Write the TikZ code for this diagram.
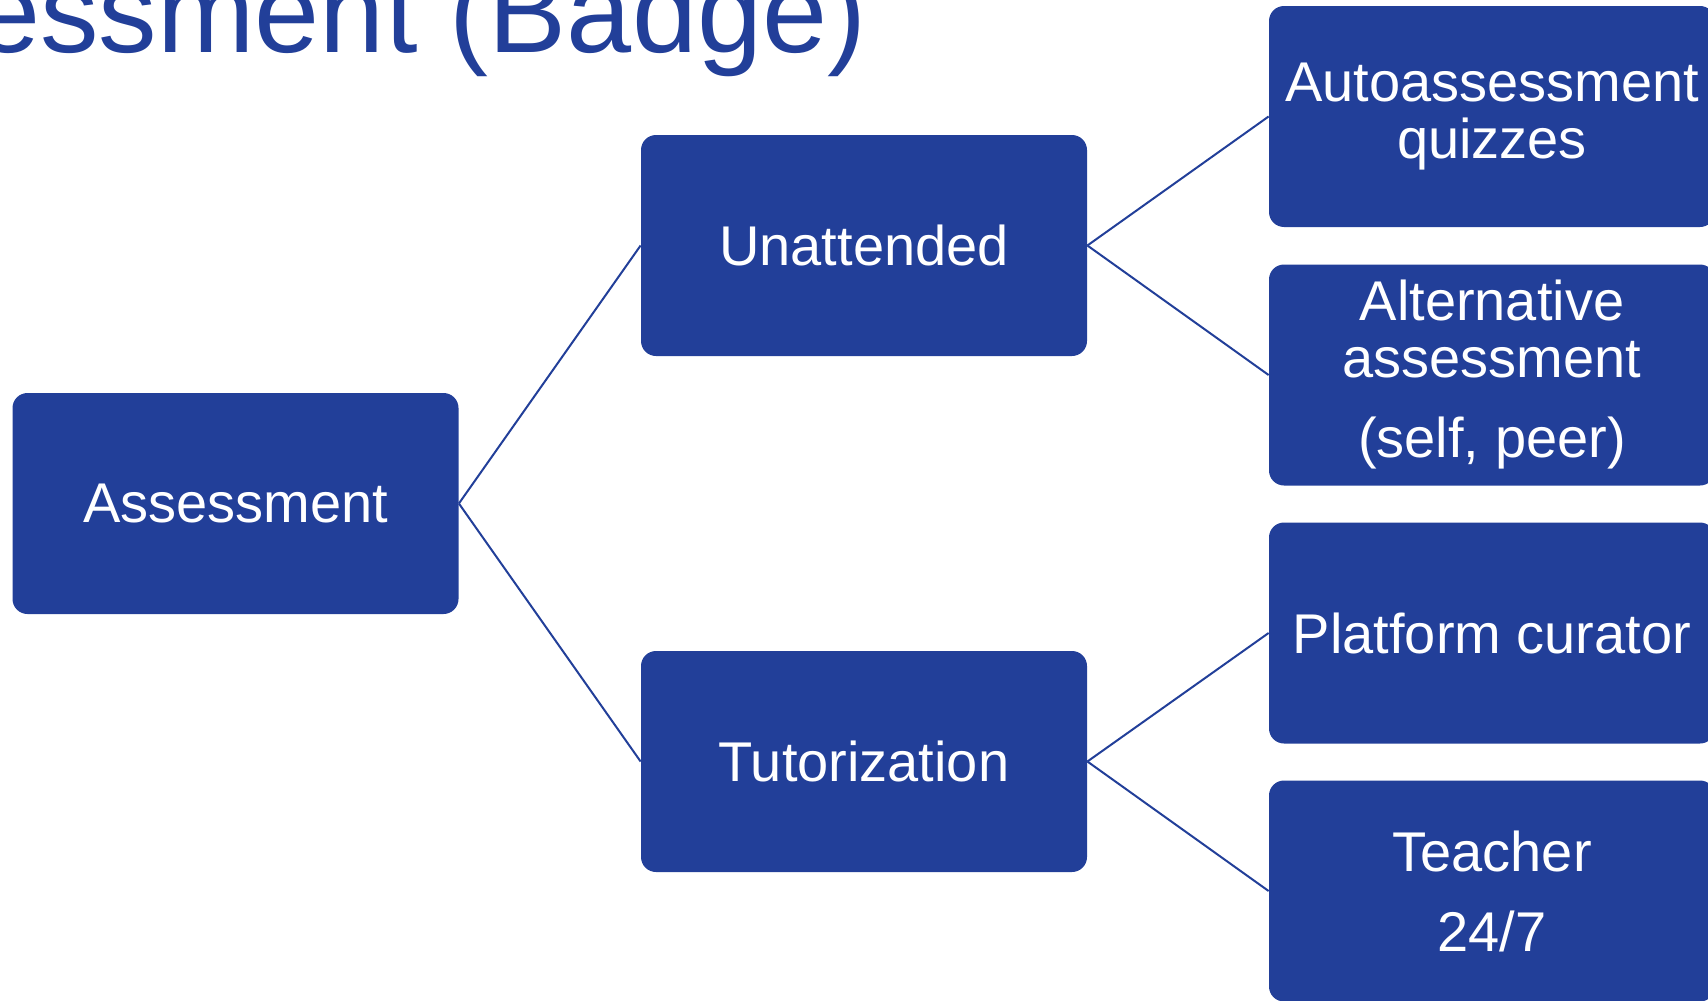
\documentclass[tikz,border=0pt]{standalone}
\usepackage{fontspec}
\setmainfont{Liberation Sans}
\definecolor{boxblue}{HTML}{223F99}
\begin{document}
\begin{tikzpicture}[x=0.5pt,y=-0.5pt,
  blk/.style={rectangle, rounded corners=7.5pt, fill=boxblue, text=white,
    minimum width=223pt, minimum height=110.5pt, inner sep=0pt, align=center,
    font=\fontsize{28}{28.5}\selectfont},
  link/.style={draw=boxblue, line width=1pt}]
\useasboundingbox (0,0) rectangle (1708,1001);
\clip (0,0) rectangle (1708,1001);
\node[anchor=base west, inner sep=0pt, text=boxblue, font=\fontsize{58.5}{60}\selectfont] (title) at (-25,52) {essment (Badge)};
\node[blk] (assess) at (235.5,503.5) {Assessment};
\node[blk] (unatt) at (864,245.5) {Unattended};
\node[blk] (tutor) at (864,761.5) {Tutorization};
\node[blk] (auto) at (1492,116.5) {Autoassessment\\quizzes};
\node[blk] (alt) at (1492,375) {Alternative\\assessment\\[11.5pt](self, peer)};
\node[blk] (plat) at (1492,633) {Platform curator};
\node[blk] (teach) at (1492,891) {Teacher\\[11.5pt]24/7};
\draw[link] (assess.east) -- (unatt.west);
\draw[link] (assess.east) -- (tutor.west);
\draw[link] (unatt.east) -- (auto.west);
\draw[link] (unatt.east) -- (alt.west);
\draw[link] (tutor.east) -- (plat.west);
\draw[link] (tutor.east) -- (teach.west);
\end{tikzpicture}
\end{document}
